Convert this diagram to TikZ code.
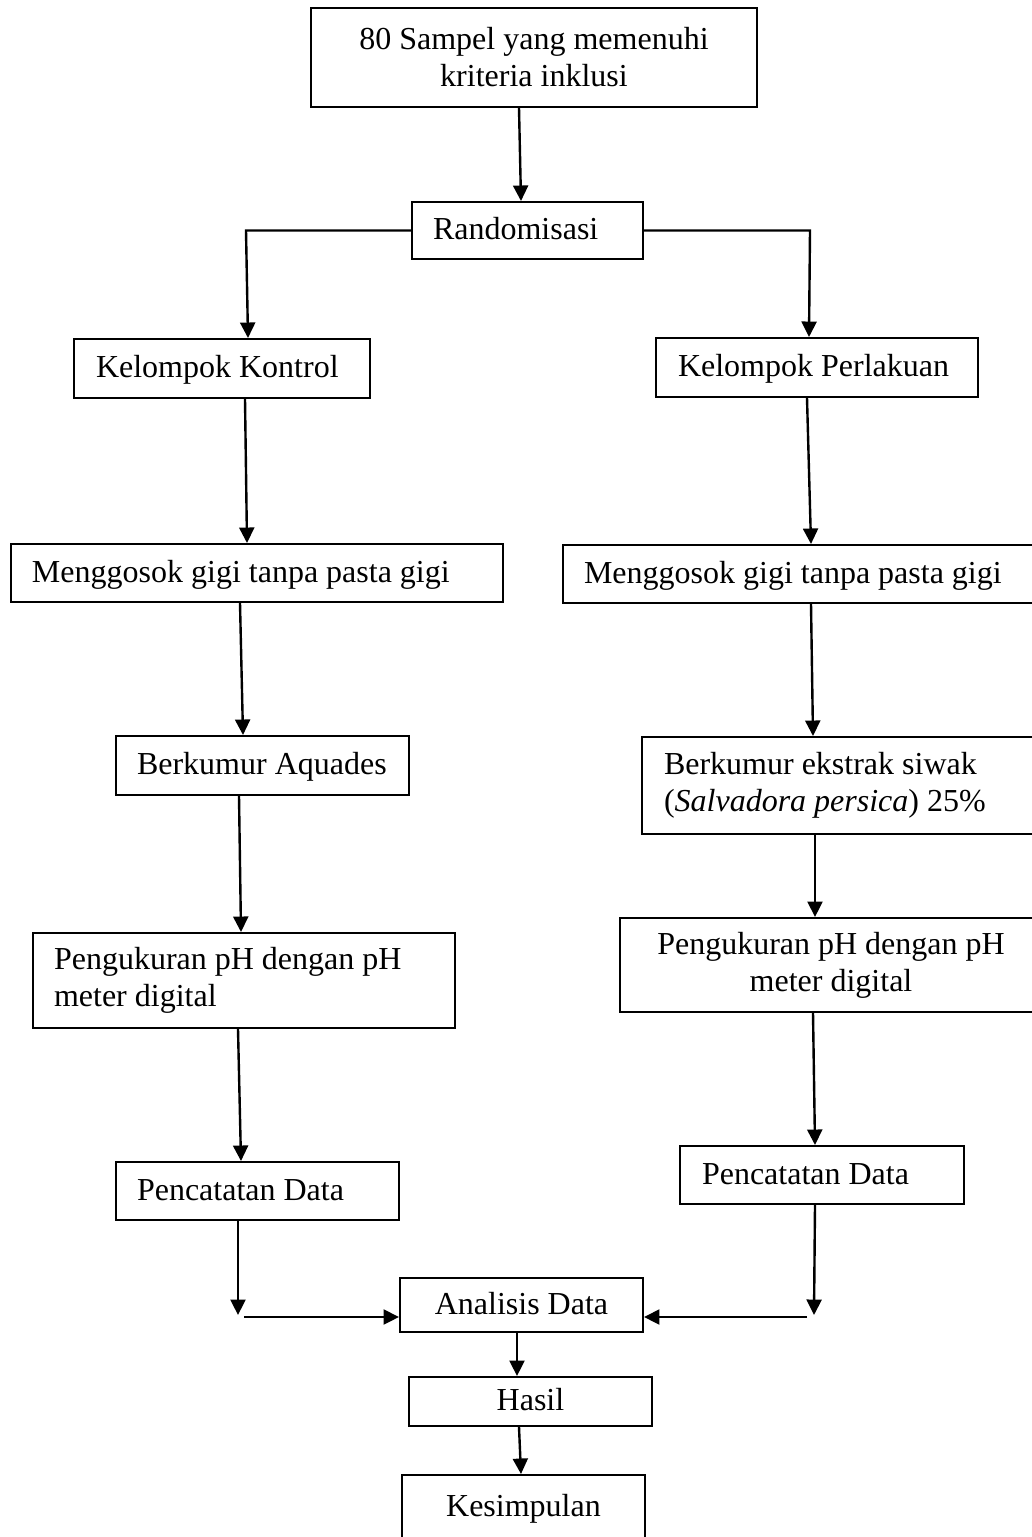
\documentclass[tikz,border=0pt]{standalone}
\usepackage{fontspec}
\setmainfont{Liberation Serif}
\usetikzlibrary{arrows.meta,calc}
\newcommand{\lbtext}[2]{\makebox[#1][l]{#2}}
\newcommand{\nsp}{\spaceskip=\fontdimen2\font\relax\xspaceskip=\fontdimen2\font\relax}
\tikzset{
  box/.style={draw, line width=0.75pt, rectangle, inner ysep=0pt,
    font=\fontsize{12}{13.9}\selectfont},
  one/.style={text height=0.85em, text depth=0.17em},
  lft/.style={align=left, inner xsep=#1},
  sl/.style={inner xsep=#1},
  ctr/.style={align=center, inner xsep=0pt},
  arr/.style={line width=0.9pt, -{Triangle[length=5.8pt,width=5.6pt]}},
  ln/.style={line width=0.9pt}
}
\begin{document}
\begin{tikzpicture}[x=0.375pt, y=-0.375pt]
\useasboundingbox (0,0) rectangle (1032,1537);
\clip (0,0) rectangle (1032,1537);

\node[box, ctr, text width=167.25pt, minimum height=37.125pt] (top) at (534,57.5)
  {\nsp 80 Sampel yang memenuhi\\kriteria inklusi};
\node[box, one, sl=7.875pt, minimum height=21.375pt] (rand) at (527.5,230.5)
  {\lbtext{70.875pt}{Randomisasi}};
\node[box, one, sl=8.25pt, minimum height=22.125pt] (kk) at (222,368.5)
  {\lbtext{94.5pt}{Kelompok Kontrol}};
\node[box, one, sl=8.25pt, minimum height=22.125pt] (kp) at (817,367.5)
  {\lbtext{104.25pt}{Kelompok Perlakuan}};
\node[box, one, sl=7.875pt, minimum height=21.75pt] (mg1) at (257,573)
  {\lbtext{168.75pt}{Menggosok gigi tanpa pasta gigi}};
\node[box, one, sl=7.875pt, minimum height=21.75pt] (mg2) at (804,574)
  {\lbtext{165pt}{Menggosok gigi tanpa pasta gigi}};
\node[box, one, sl=7.875pt, minimum height=22.125pt] (ba) at (262.5,765.5)
  {\lbtext{94.125pt}{Berkumur Aquades}};
\node[box, lft=8.25pt, text width=134.625pt, minimum height=36.375pt] (be) at (843.5,785.5)
  {\nsp Berkumur ekstrak siwak\\(\textit{Salvadora persica}) 25\%};
\node[box, lft=7.875pt, text width=142.5pt, minimum height=35.625pt] (pg1) at (244,980.5)
  {\nsp Pengukuran pH dengan pH\\meter digital};
\node[box, ctr, text width=158.25pt, minimum height=35.25pt] (pg2) at (831,965)
  {\nsp Pengukuran pH dengan pH\\meter digital};
\node[box, one, sl=7.875pt, minimum height=21.75pt] (pc1) at (257.5,1191)
  {\lbtext{90.375pt}{Pencatatan Data}};
\node[box, one, sl=8.25pt, minimum height=21.75pt] (pc2) at (822,1175)
  {\lbtext{90pt}{Pencatatan Data}};
\node[box, one, ctr, text width=91.125pt, minimum height=20.25pt] (an) at (521.5,1305)
  {\nsp Analisis Data};
\node[box, one, ctr, text width=91.125pt, minimum height=18.375pt] (hs) at (530.5,1401.5)
  {Hasil};
\node[box, ctr, text width=91.125pt, text height=15.4pt, text depth=22.5pt, anchor=north] (ks) at (523.5,1474)
  {Kesimpulan};

\coordinate (jl) at (238,1315);
\coordinate (jr) at (814,1315);

\draw[arr] ($(top.south)+(-15,0)$) -- ($(rand.north)+(-6.5,0)$);
\draw[arr] (rand.west) -- ++(-165,0) -- ($(kk.north)+(26,0)$);
\draw[arr] (rand.east) -- ++(166,0) -- ($(kp.north)+(-8,0)$);
\draw[arr] ($(kk.south)+(23,0)$) -- ($(mg1.north)+(-10,0)$);
\draw[arr] ($(kp.south)+(-10,0)$) -- ($(mg2.north)+(7,0)$);
\draw[arr] ($(mg1.south)+(-17,0)$) -- ($(ba.north)+(-19.5,0)$);
\draw[arr] ($(mg2.south)+(7,0)$) -- ($(be.north)+(-30.5,0)$);
\draw[arr] ($(ba.south)+(-23.5,0)$) -- ($(pg1.north)+(-3,0)$);
\draw[arr] ($(be.south)+(-28.5,0)$) -- ($(pg2.north)+(-16,0)$);
\draw[arr] ($(pg1.south)+(-6,0)$) -- ($(pc1.north)+(-16.5,0)$);
\draw[arr] ($(pg2.south)+(-18,0)$) -- ($(pc2.north)+(-7,0)$);
\draw[arr] ($(pc1.south)+(-19.5,0)$) -- (jl);
\draw[arr] ($(pc2.south)+(-7,0)$) -- (jr);
\draw[arr] ($(jl)+(6,2)$) -- ($(an.west)+(0,12)$);
\draw[arr] ($(jr)+(-7,2)$) -- ($(an.east)+(0,12)$);
\draw[arr] ($(an.south)+(-4.5,0)$) -- ($(hs.north)+(-13.5,0)$);
\draw[arr] ($(hs.south)+(-11.5,0)$) -- ($(ks.north)+(-2.5,0)$);
\end{tikzpicture}
\end{document}
